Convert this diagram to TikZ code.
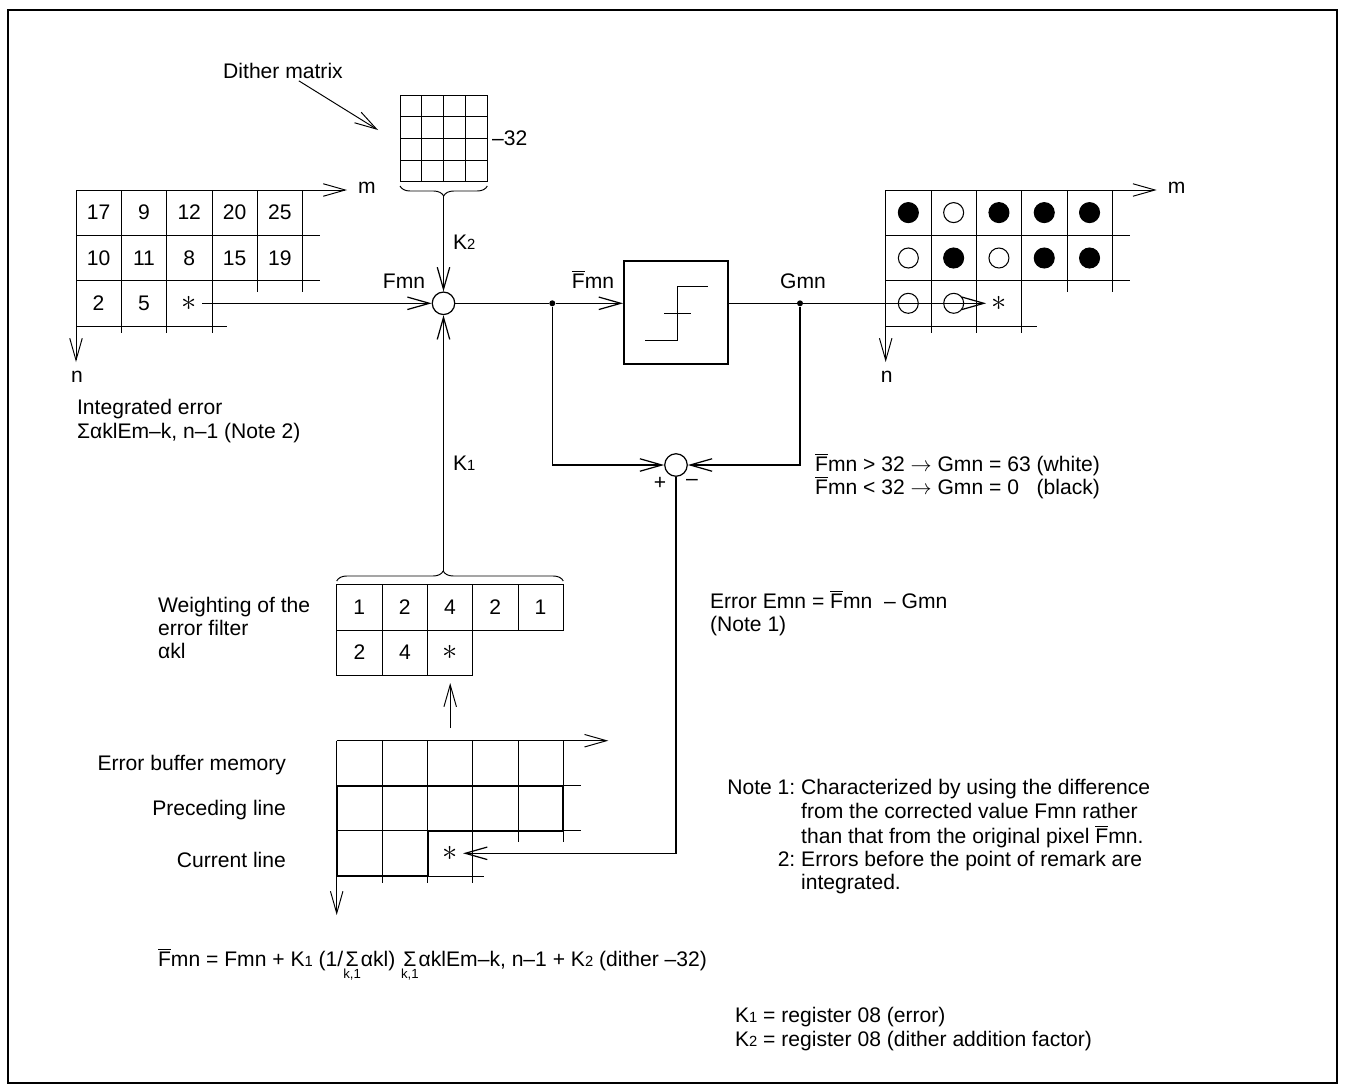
\documentclass[tikz,border=0pt]{standalone}
\usepackage{fontspec}
\setmainfont{Liberation Sans}
\usetikzlibrary{arrows.meta, decorations.pathreplacing}

\newcommand{\Fb}{$\overline{\mbox{F}}$}
\newcommand{\Kn}[1]{K{\fontsize{8.4}{9}\selectfont #1}}
\newcommand{\sumkl}{$\mathop{\mbox{Σ}}\limits_{\mbox{\fontsize{7.5}{7.5}\selectfont k,1}}$}

% axes and cells of one image plane, #1 = name prefix
\newcommand{\imagegrid}[1]{%
  \draw[gridline, barb] (76,190) -- (347,190);
  \draw[gridline, barb] (76,190) -- (76,362);
  \draw[gridline] (76,235.3) -- (320,235.3) (76,280.6) -- (320,280.6) (76,326) -- (227,326);
  \draw[gridline] (121.3,190) -- (121.3,333) (166.6,190) -- (166.6,333) (212,190) -- (212,333);
  \draw[gridline] (257.3,190) -- (257.3,292) (302.6,190) -- (302.6,292);
  \node (#1-m) at (367,188) {m};
  \node (#1-n) at (77,377) {n};
}

\begin{document}
\begin{tikzpicture}[
    x=0.2mm, y=-0.2mm,
    font=\fontsize{12}{13.3}\selectfont,
    every node/.style={inner sep=1pt},
    gridline/.style={line width=0.55pt},
    wire/.style={line width=0.7pt},
    heavy/.style={line width=1.2pt},
    barb/.style={-{Straight Barb[length=4.4mm, width=2.5mm]}},
    sumnode/.style={circle, draw, line width=0.7pt, minimum size=4.5mm, inner sep=0pt},
    dot/.style={circle, fill, minimum size=1.2mm, inner sep=0pt},
    pix/.style={circle, draw, line width=0.6pt, minimum size=4mm, inner sep=0pt},
    asterisk/.style={minimum width=5mm, inner sep=0pt, font=\fontsize{17}{17}\selectfont},
]
\useasboundingbox (0,0) rectangle (1345,1091);

% Frame
\draw[line width=1.5pt] (8,10) rectangle (1337,1083);

% Input image
\imagegrid{in}
\foreach \v [count=\i] in {17,9,12,20,25} \node (in-a\i) at (53.35+45.3*\i,212.6) {\v};
\foreach \v [count=\i] in {10,11,8,15,19} \node (in-b\i) at (53.35+45.3*\i,258) {\v};
\node (in-c1) at (98.6,303.3) {2};
\node (in-c2) at (144,303.3) {5};
\node[asterisk] (instar) at (189.3,303.3) {$\ast$};
\node[anchor=west, align=left] (lint) at (75,421) {Integrated error\\ΣαklEm–k, n–1 (Note 2)};

% Output image
\begin{scope}[shift={(809.7,0)}]
\imagegrid{out}
\foreach \c [count=\i] in {black,white,black,black,black} \node[pix, fill=\c] (out-a\i) at (53.35+45.3*\i,212.6) {};
\foreach \c [count=\i] in {white,black,white,black,black} \node[pix, fill=\c] (out-b\i) at (53.35+45.3*\i,258) {};
\node[pix] (out-c1) at (98.6,303.3) {};
\node[pix] (out-c2) at (144,303.3) {};
\node[asterisk] (outstar) at (189.3,303.3) {$\ast$};
\end{scope}

% Dither matrix
\node[draw, gridline, minimum width=17.46mm, minimum height=17.34mm, inner sep=0pt] (dither) at (443.65,138.35) {};
\foreach \k in {1,2,3} {
  \draw[gridline] (400+21.83*\k,95) -- (400+21.83*\k,181.7);
  \draw[gridline] (400,95+21.68*\k) -- (487.3,95+21.68*\k);
}
\draw[gridline, decorate, decoration={brace, amplitude=2mm, mirror}] (400,186) -- (487.3,186);
\coordinate (k2top) at (443.5,196);
\node[anchor=west, inner sep=0pt] (lm32) at ([xshift=0.8mm]dither.east) {–32};
\node (ldither) at (283,71) {Dither matrix};
\coordinate (dtip) at (378,130);
\draw[gridline, barb] (ldither) -- (dtip);

% Summing point and quantizer
\node[sumnode] (sum) at (443.5,303.3) {};
\node[dot] (jfb) at (552.3,303.3) {};
\node[draw, line width=1.1pt, minimum width=20.8mm, minimum height=20.6mm, inner sep=0pt] (quant) at (676,312.3) {};
\draw[gridline] (645,340) -- (677.3,340) -- (677.3,286.7) -- (708.3,286.7);
\draw[gridline] (664.3,313.3) -- (690.7,313.3);
\node[dot] (jg) at (800,303.3) {};
\node[sumnode] (diff) at (676,465) {};

\node[anchor=base] (lfmn) at (404,288.5) {Fmn};
\node[anchor=base] (lfbar) at (593,288.5) {\Fb mn};
\node[anchor=base] (lgmn) at (803,288.5) {Gmn};
\node[anchor=west] (lk2) at (451,242) {\Kn2};
\node[anchor=west] (lk1) at (451,463) {\Kn1};
\node (lplus) at (660,483) {+};
\node (lminus) at (692,482) {–};

% Error filter
\draw[gridline] (336.7,584.3) rectangle (563.3,630) (336.7,630) rectangle (472.7,675);
\draw[gridline] (382.3,584.3) -- (382.3,675) (427.7,584.3) -- (427.7,675) (472.7,584.3) -- (472.7,630) (518.3,584.3) -- (518.3,630);
\foreach \v [count=\i] in {1,2,4,2,1} \node (fa\i) at (314.05+45.3*\i,607) {\v};
\node (fb1) at (359.5,652.5) {2};
\node (fb2) at (405,652.5) {4};
\node[asterisk] (filtstar) at (450.2,652.5) {$\ast$};
\draw[gridline, decorate, decoration={brace, amplitude=2mm, aspect=0.47}] (336.7,581) -- (563.3,581);
\coordinate (k1bot) at (443.5,571);
\node[anchor=west, align=left] (lweight) at (156,628) {Weighting of the\\error filter\\αkl};

% Error buffer memory
\draw[gridline, barb] (336.7,740.7) -- (608.3,740.7);
\draw[gridline, barb] (336.7,740.7) -- (336.7,915);
\draw[gridline] (336.7,785.7) -- (580.7,785.7) (336.7,830.7) -- (580.7,830.7) (336.7,876) -- (484,876);
\draw[gridline] (382.3,740.7) -- (382.3,883.3) (427.7,740.7) -- (427.7,883.3) (472.7,740.7) -- (472.7,883.3);
\draw[gridline] (518.3,740.7) -- (518.3,841.7) (563.3,740.7) -- (563.3,841.7);
\draw[heavy] (336.7,785.7) -- (563.3,785.7) -- (563.3,830.7) -- (427.7,830.7) -- (427.7,876) -- (336.7,876) -- cycle;
\node[asterisk] (bufstar) at (450.2,853.3) {$\ast$};
\coordinate (bufup) at (450.2,728);
\coordinate (filttip) at (450.2,683);
\node[anchor=east] (lbuf) at (288,765) {Error buffer memory};
\node[anchor=east] (lprec) at (288,810) {Preceding line};
\node[anchor=east] (lcur) at (288,860) {Current line};

% Connectors
\draw[wire, barb] (instar) -- (sum);
\draw[wire, barb] (k2top) -- (sum);
\draw[wire, barb] (k1bot) -- (sum);
\draw[wire] (sum) -- (jfb);
\draw[wire, barb] (jfb) -- (jfb -| quant.west);
\draw[wire] (quant.east |- jg) -- (jg);
\draw[wire, barb] (jg) -- (outstar);
\draw[wire, barb] (jfb) |- (diff);
\draw[wire, barb] (jg) |- (diff);
\draw[wire, barb] (diff) |- (bufstar);
\draw[gridline, barb] (bufup) -- (filttip);

% Texts
\node[anchor=west, align=left] (lcond) at (813,476) {\Fb mn > 32 $\rightarrow$ Gmn = 63 (white)\\\Fb mn < 32 $\rightarrow$ Gmn = 0\phantom{3} (black)};
\node[anchor=west, align=left] (lerr) at (708,613) {Error Emn = \Fb mn\ \ – Gmn\\(Note 1)};
\node[anchor=north west, inner sep=0pt] (lnotes) at (727,778) {%
  \begin{tabular}{@{}r@{\ }l@{}}
  Note 1: & Characterized by using the difference\\
          & from the corrected value Fmn rather\\
          & than that from the original pixel \Fb mn.\\
       2: & Errors before the point of remark are\\
          & integrated.
  \end{tabular}};
\node[anchor=base west] (lformula) at (156,966) {\Fb mn = Fmn + \Kn1 (1/\sumkl αkl) \sumkl αklEm–k, n–1 + \Kn2 (dither –32)};
\node[anchor=west, align=left] (lkreg) at (733,1029) {\Kn1 = register 08 (error)\\\Kn2 = register 08 (dither addition factor)};

\end{tikzpicture}
\end{document}
